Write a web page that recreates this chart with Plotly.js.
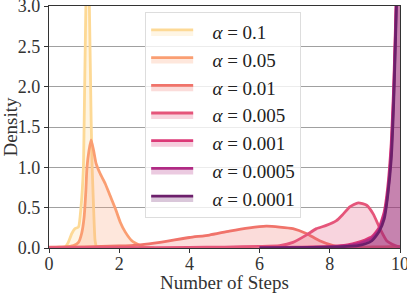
<!DOCTYPE html>
<html>
<head>
<meta charset="utf-8">
<script src="https://cdn.plot.ly/plotly-3.0.1.min.js"></script>
<style>html,body{margin:0;padding:0;background:#fff;}#chart{width:407px;height:293px;}</style>
</head>
<body>
<div id="chart"></div>
<script>
// alpha levels (legend order)
const alphaLabels = ['0.1', '0.05', '0.01', '0.005', '0.001', '0.0005', '0.0001'];
const lineColors = ['#fdd995', '#fa9e72', '#f0736a', '#e5557a', '#dc3977', '#b02a84', '#6c1f6b'];

// KDE curves (x = number of steps, y = density)
const x_a01 = [0.45, 0.55, 0.65, 0.74, 0.84, 0.91, 0.98, 1.0, 1.05, 1.1, 1.15, 1.2, 1.23, 1.27, 1.31, 1.35];
const y_a01 = [0, 0.07, 0.18, 0.24, 0.26, 0.5, 1.0, 1.5, 3.0, 3.8, 3.0, 1.6, 1.0, 0.5, 0.1, 0];

const x_a005 = [0, 0.3, 0.6, 0.7, 0.84, 0.93, 1.0, 1.05, 1.08, 1.14, 1.2, 1.27, 1.34, 1.46, 1.6, 1.74, 1.89, 2.03, 2.17, 2.36, 2.55, 2.7, 3.0];
const y_a005 = [0, 0.01, 0.02, 0.03, 0.07, 0.18, 0.38, 0.71, 0.99, 1.21, 1.34, 1.21, 1.05, 0.92, 0.8, 0.65, 0.49, 0.32, 0.2, 0.09, 0.04, 0.01, 0];

const x_a001 = [0, 1, 2, 2.59, 3.16, 4.0, 4.57, 5.14, 5.71, 6.19, 6.57, 6.95, 7.33, 7.71, 8.1, 8.5, 9.0, 9.5, 10];
const y_a001 = [0.01, 0.015, 0.025, 0.04, 0.07, 0.13, 0.16, 0.21, 0.25, 0.27, 0.26, 0.24, 0.18, 0.09, 0.03, 0.01, 0.01, 0.015, 0.02];

const x_a0005 = [0, 2, 4, 5, 6, 6.57, 6.95, 7.33, 7.62, 7.9, 8.19, 8.38, 8.57, 8.81, 9.05, 9.24, 9.43, 9.62, 9.86, 10];
const y_a0005 = [0, 0.003, 0.008, 0.012, 0.02, 0.03, 0.07, 0.16, 0.24, 0.28, 0.34, 0.42, 0.51, 0.56, 0.53, 0.42, 0.24, 0.09, 0.03, 0.01];

const x_a0001 = [6, 7, 8, 8.5, 8.8, 9.0, 9.2, 9.4, 9.55, 9.65, 9.75, 9.82, 9.88, 9.93, 10];
const y_a0001 = [0.005, 0.01, 0.02, 0.04, 0.07, 0.1, 0.14, 0.25, 0.45, 0.75, 1.3, 2.0, 2.9, 3.8, 5.2];

const x_a00005 = [6, 7, 8, 8.5, 8.8, 9.0, 9.2, 9.4, 9.55, 9.65, 9.75, 9.82, 9.88, 9.93, 10];
const y_a00005 = [0.003, 0.008, 0.015, 0.03, 0.05, 0.08, 0.12, 0.22, 0.4, 0.68, 1.2, 1.9, 2.8, 3.7, 5.5];

const x_a00001 = [6, 7, 8, 8.5, 8.8, 9.0, 9.2, 9.4, 9.55, 9.65, 9.75, 9.82, 9.88, 9.93, 10];
const y_a00001 = [0.002, 0.005, 0.01, 0.02, 0.03, 0.05, 0.09, 0.2, 0.36, 0.65, 1.1, 1.8, 2.7, 3.6, 6.0];

const xSeries = [x_a01, x_a005, x_a001, x_a0005, x_a0001, x_a00005, x_a00001];
const ySeries = [y_a01, y_a005, y_a001, y_a0005, y_a0001, y_a00005, y_a00001];

const yTickVals = [0, 0.5, 1.0, 1.5, 2.0, 2.5, 3.0];
const yTickText = ['0.0', '0.5', '1.0', '1.5', '2.0', '2.5', '3.0'];
const xTickVals = [0, 2, 4, 6, 8, 10];

function rgba(hex, a) {
  const r = parseInt(hex.slice(1, 3), 16), g = parseInt(hex.slice(3, 5), 16), b = parseInt(hex.slice(5, 7), 16);
  return 'rgba(' + r + ',' + g + ',' + b + ',' + a + ')';
}

const FONT = 'Liberation Serif';
const NB = '\u00a0\u00a0\u00a0';

const traces = alphaLabels.map((a, i) => ({
  type: 'scatter',
  mode: 'lines',
  x: xSeries[i],
  y: ySeries[i],
  name: NB + '<i>α</i> = ' + a,
  line: {color: lineColors[i], width: 2.8, shape: 'spline', smoothing: 0.5},
  fill: 'tozeroy',
  fillcolor: rgba(lineColors[i], 0.25),
  hoverinfo: 'skip'
}));

const layout = {
  width: 407,
  height: 293,
  margin: {l: 49, r: 7, t: 6, b: 45},
  paper_bgcolor: '#ffffff',
  plot_bgcolor: '#ffffff',
  font: {family: FONT, size: 18, color: '#333'},
  showlegend: true,
  legend: {
    x: 0.274, y: 0.975, xanchor: 'left', yanchor: 'top',
    bgcolor: 'rgba(255,255,255,0.8)',
    bordercolor: '#dddddd', borderwidth: 1,
    font: {family: FONT, size: 19, color: '#222'},
    traceorder: 'normal',
    itemwidth: 42
  },
  xaxis: {
    range: [0, 10],
    tickvals: xTickVals,
    ticks: 'outside', ticklen: 4, tickwidth: 1, tickcolor: '#333',
    showgrid: false, zeroline: false,
    showline: true, linecolor: '#333', linewidth: 1.2, mirror: true,
    ticklabeloverflow: 'allow',
    ticklabelstandoff: -5,
    tickfont: {family: FONT, size: 18, color: '#333'},
    title: {text: 'Number of Steps', font: {family: FONT, size: 19, color: '#333'}, standoff: 2},
    automargin: false
  },
  yaxis: {
    range: [0, 3],
    tickvals: yTickVals,
    ticktext: yTickText,
    ticks: 'outside', ticklen: 4, tickwidth: 1, tickcolor: '#333',
    showgrid: true, gridcolor: '#a0a0a0', gridwidth: 1,
    zeroline: false,
    showline: true, linecolor: '#333', linewidth: 1.2, mirror: true,
    ticklabeloverflow: 'allow',
    tickfont: {family: FONT, size: 18, color: '#333'},
    title: {text: 'Density', font: {family: FONT, size: 19, color: '#333'}, standoff: 4},
    automargin: false
  }
};

Plotly.newPlot('chart', traces, layout, {staticPlot: true, displayModeBar: false});
</script>
</body>
</html>
